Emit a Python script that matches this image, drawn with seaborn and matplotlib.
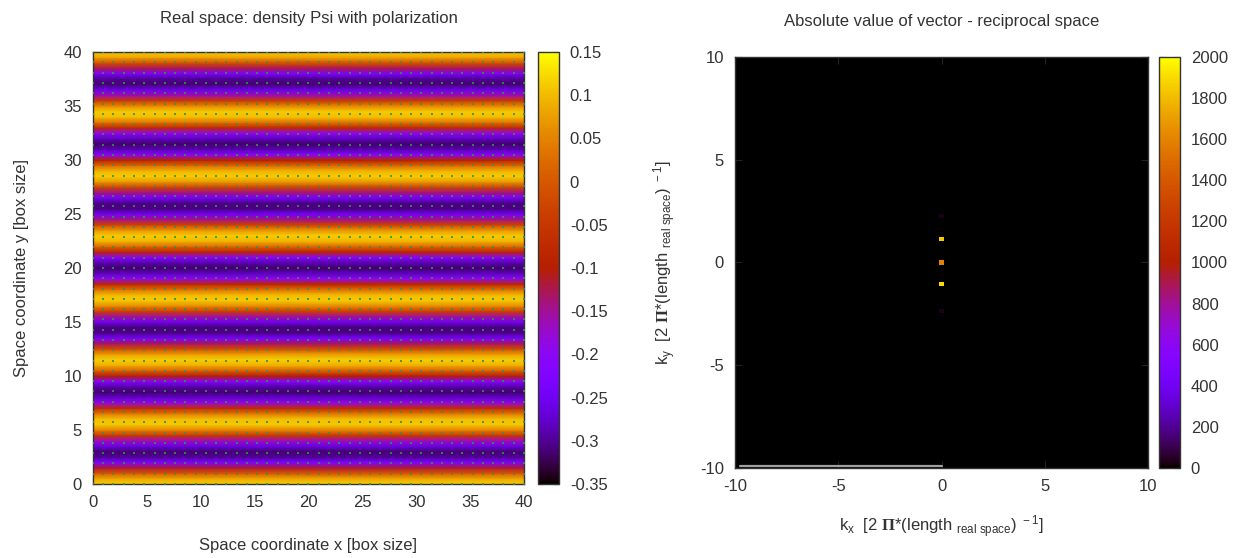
import numpy as np
import matplotlib
matplotlib.use("Agg")
import matplotlib.pyplot as plt
import seaborn as sns

sns.set_theme(style="ticks")
plt.rcParams['font.family'] = ['Liberation Sans', 'DejaVu Sans']
plt.rcParams['mathtext.fontset'] = 'custom'
plt.rcParams['mathtext.rm'] = 'Liberation Sans'
plt.rcParams['mathtext.it'] = 'Liberation Sans'
plt.rcParams['mathtext.bf'] = 'Liberation Serif:bold'
plt.rcParams['axes.unicode_minus'] = False

# Real space: density Psi, one value per row (stripes along x), rows every 0.5 box
psi_y = [i * 0.5 for i in range(81)]
psi_rows = [0.115, 0.083, -0.002, -0.117, -0.226, -0.298, -0.313, -0.264, -0.167, -0.051,
            0.050, 0.109, 0.105, 0.041, -0.065, -0.181, -0.273, -0.314, -0.293, -0.215,
            -0.103, 0.010, 0.091, 0.115, 0.076, -0.015, -0.130, -0.237, -0.304, -0.310,
            -0.253, -0.154, -0.037, 0.060, 0.112, 0.100, 0.030, -0.079, -0.193, -0.281,
            -0.315, -0.286, -0.203, -0.088, 0.022, 0.096, 0.113, 0.067, -0.028, -0.144,
            -0.248, -0.308, -0.306, -0.243, -0.141, -0.024, 0.070, 0.114, 0.095, 0.019,
            -0.093, -0.206, -0.288, -0.315, -0.278, -0.190, -0.075, 0.033, 0.102, 0.111,
            0.058, -0.041, -0.158, -0.258, -0.311, -0.302, -0.234, -0.126, -0.012, 0.078,
            0.115]
psi_ticks = [-0.35, -0.3, -0.25, -0.2, -0.15, -0.1, -0.05, 0, 0.05, 0.1, 0.15]
psi_ticklabels = ['-0.35', '-0.3', '-0.25', '-0.2', '-0.15', '-0.1', '-0.05', '0', '0.05', '0.1', '0.15']

# Reciprocal space: peaks of the absolute value
peak_kx = [0, 0, 0, 0, 0]
peak_ky = [2.25, 1.15, 0.0, -1.05, -2.35]
peak_val = [25, 1850, 1600, 1900, 25]
amp_ticks = [0, 200, 400, 600, 800, 1000, 1200, 1400, 1600, 1800, 2000]
edge_line_kx = [-9.75, 0.0]
edge_line_ky = [-9.88, -9.88]

cmap = plt.get_cmap('gnuplot')
txt = '#333333'

fig = plt.figure(figsize=(12.53, 5.58), dpi=100)
ax1 = fig.add_axes([0.0742, 0.1326, 0.344, 0.774])
cax1 = fig.add_axes([0.4294, 0.1326, 0.0165, 0.774])
ax2 = fig.add_axes([0.5866, 0.1613, 0.3296, 0.7366])
cax2 = fig.add_axes([0.925, 0.1613, 0.0165, 0.7366])

# left panel
X, Y = np.meshgrid([0, 40], psi_y)
C = np.repeat(np.array(psi_rows)[:, None], 2, axis=1)
mesh = ax1.pcolormesh(X, Y, C, cmap=cmap, vmin=-0.35, vmax=0.15, shading='gouraud')
gx, gy = np.meshgrid(np.linspace(0, 40, 43), np.linspace(0, 40, 43))
ax1.scatter(gx.ravel(), gy.ravel(), s=1.5, marker='s', color='#3f8a5a', alpha=0.85,
            linewidths=0, zorder=3)
ax1.set_xlim(0, 40)
ax1.set_ylim(0, 40)
ax1.set_xticks(range(0, 41, 5))
ax1.set_yticks(range(0, 41, 5))
ax1.set_title('Real space: density Psi with polarization', fontsize=12, color=txt, pad=21)
ax1.set_xlabel('Space coordinate x [box size]', fontsize=12, color=txt, labelpad=20)
ax1.set_ylabel('Space coordinate y [box size]', fontsize=12, color=txt, labelpad=25)

cb1 = fig.colorbar(mesh, cax=cax1)
cb1.set_ticks(psi_ticks)
cb1.set_ticklabels(psi_ticklabels)

# right panel
ax2.set_facecolor(cmap(0.0))
sc = ax2.scatter(peak_kx, peak_ky, c=peak_val, cmap=cmap, vmin=0, vmax=2000,
                 marker='s', s=9, linewidths=0, zorder=3)
ax2.plot(edge_line_kx, edge_line_ky, color='#a0a0a0', lw=1.6, zorder=2)
ax2.set_xlim(-10, 10)
ax2.set_ylim(-10, 10)
ax2.set_xticks(range(-10, 11, 5))
ax2.set_yticks(range(-10, 11, 5))
ax2.set_title('Absolute value of vector - reciprocal space', fontsize=12, color=txt, pad=22)
ax2.set_xlabel(r'k$_{\rm x}$  [2 $\mathbf{\Pi}$*(length $_{\rm real\ space}$) $^{\rm -1}$]',
               fontsize=12, color=txt, labelpad=14)
ax2.set_ylabel(r'k$_{\rm y}$  [2 $\mathbf{\Pi}$*(length $_{\rm real\ space}$) $^{\rm -1}$]',
               fontsize=12, color=txt, labelpad=16)

cb2 = fig.colorbar(sc, cax=cax2)
cb2.set_ticks(amp_ticks)

for ax in (ax1, ax2):
    ax.tick_params(direction='in', length=5, width=0.8, top=True, right=True,
                   labelsize=12, labelcolor=txt, color='#222222', pad=8)
    for sp in ax.spines.values():
        sp.set_color('#333333')
        sp.set_linewidth(1.0)

for cax in (cax1, cax2):
    cax.tick_params(direction='in', length=4, width=0.8, left=True, right=True,
                    labelsize=12, labelcolor=txt, color='#222222', pad=8)
    for sp in cax.spines.values():
        sp.set_color('#333333')
        sp.set_linewidth(1.0)

fig.savefig('out.png', dpi=100)
